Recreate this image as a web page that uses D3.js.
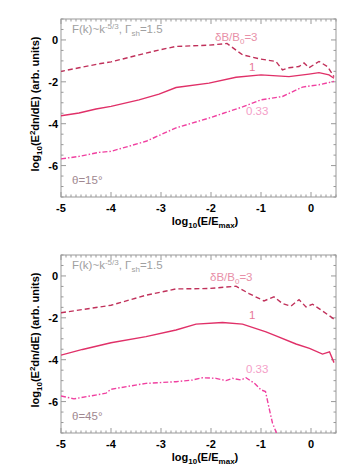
<!DOCTYPE html>
<html lang="en">
<head>
    <meta charset="UTF-8">
    <title>Spectra</title>
    <script src="https://d3js.org/d3.v7.min.js"></script>
    <style>
        body { margin: 0; background: white; }
        .tick-label { font-family: "Liberation Sans", Arial, sans-serif; font-weight: bold; font-size: 11px; }
        .note { font-family: "Liberation Sans", Arial, sans-serif; font-size: 11.5px; }
    </style>
</head>
<body>
    <script>

        // top panel, theta = 15 deg
        var dash15X = [-5.02, -4.64, -4.24, -4.0, -3.44, -3.04, -2.7, -2.04, -1.68, -1.37, -1.04, -0.7, -0.57, -0.44, -0.24, -0.14, -0.04, 0.16, 0.33, 0.46];
        var dash15Y = [-1.51, -1.33, -1.14, -1.05, -0.71, -0.48, -0.31, -0.25, -0.17, -0.71, -0.9, -1.03, -1.43, -1.33, -1.27, -1.1, -1.33, -1.03, -1.27, -1.75];
        var solid15X = [-5.0, -4.64, -4.3, -4.0, -3.44, -3.04, -2.7, -2.04, -1.5, -1.0, -0.44, -0.04, 0.16, 0.36, 0.46];
        var solid15Y = [-3.62, -3.49, -3.3, -3.17, -2.86, -2.59, -2.27, -2.06, -1.78, -1.67, -1.75, -1.63, -1.56, -1.67, -1.83];
        var dot15X = [-5.0, -4.64, -4.24, -4.0, -3.3, -2.7, -2.04, -1.37, -1.0, -0.57, -0.17, 0.16, 0.46];
        var dot15Y = [-5.68, -5.56, -5.37, -5.32, -4.84, -4.2, -3.73, -3.2, -2.86, -2.7, -2.25, -2.14, -1.98];

        // bottom panel, theta = 45 deg
        var dash45X = [-5.0, -4.0, -3.3, -2.7, -2.04, -1.5, -1.24, -0.94, -0.74, -0.57, -0.4, -0.24, -0.1, 0.03, 0.23, 0.46];
        var dash45Y = [-1.76, -1.4, -0.92, -0.62, -0.6, -0.49, -0.84, -1.19, -1.0, -1.32, -1.44, -1.13, -1.48, -1.35, -1.67, -2.06];
        var solid45X = [-5.0, -4.57, -4.0, -3.3, -2.7, -2.3, -1.77, -1.37, -0.9, -0.7, -0.3, -0.03, 0.23, 0.37, 0.46];
        var solid45Y = [-3.78, -3.51, -3.19, -2.9, -2.58, -2.3, -2.22, -2.3, -2.67, -2.86, -3.25, -3.46, -3.73, -3.62, -4.14];
        var dot45X = [-5.0, -4.74, -4.1, -4.0, -3.3, -2.7, -2.37, -2.17, -1.9, -1.7, -1.57, -1.4, -1.3, -1.13, -1.0, -0.91, -0.83, -0.77, -0.69];
        var dot45Y = [-5.73, -5.87, -5.6, -5.41, -5.13, -5.05, -4.97, -4.86, -4.89, -5.0, -4.89, -4.97, -4.86, -5.13, -5.44, -5.52, -6.4, -7.03, -7.5];

        var xTicks = [-5, -4, -3, -2, -1, 0];
        var yTicks = [0, -2, -4, -6];

        var svg = d3.select("body").append("svg")
            .attr("width", 354)
            .attr("height", 472);

        var x = d3.scaleLinear().domain([-5, 0.5]).range([61, 336]);

        function zip(xs, ys) {
            return xs.map(function (d, i) { return [d, ys[i]]; });
        }

        function panel(top, theta, series) {
            var y = d3.scaleLinear().domain([-7.5, 1]).range([top + 178, top]);
            var g = svg.append("g");
            var clipId = "clip" + top;

            g.append("clipPath").attr("id", clipId)
                .append("rect")
                .attr("x", 61).attr("y", top)
                .attr("width", 275).attr("height", 178);

            // frame
            g.append("rect")
                .attr("x", 61).attr("y", top)
                .attr("width", 275).attr("height", 178)
                .attr("fill", "none")
                .attr("stroke", "#999")
                .attr("stroke-width", 1);

            // x ticks, minor every 0.1
            var xMinor = d3.range(-50, 6).map(function (d) { return d / 10; });
            xMinor.forEach(function (v) {
                var major = Math.abs(v - Math.round(v)) < 1e-6;
                var len = major ? 5 : 2.5;
                g.append("line")
                    .attr("x1", x(v)).attr("x2", x(v))
                    .attr("y1", top + 178).attr("y2", top + 178 - len)
                    .attr("stroke", "#999");
                g.append("line")
                    .attr("x1", x(v)).attr("x2", x(v))
                    .attr("y1", top).attr("y2", top + len)
                    .attr("stroke", "#999");
            });

            // y ticks, minor every 0.5
            var yMinor = d3.range(-15, 3).map(function (d) { return d / 2; });
            yMinor.forEach(function (v) {
                var major = v % 2 === 0;
                var len = major ? 5 : 2.5;
                g.append("line")
                    .attr("x1", 61).attr("x2", 61 + len)
                    .attr("y1", y(v)).attr("y2", y(v))
                    .attr("stroke", "#999");
                g.append("line")
                    .attr("x1", 336).attr("x2", 336 - len)
                    .attr("y1", y(v)).attr("y2", y(v))
                    .attr("stroke", "#999");
            });

            g.selectAll(".xl").data(xTicks).enter().append("text")
                .attr("class", "tick-label")
                .attr("x", function (d) { return x(d); })
                .attr("y", top + 193)
                .attr("text-anchor", "middle")
                .text(function (d) { return d === 0 ? "0" : "-" + Math.abs(d); });

            g.selectAll(".yl").data(yTicks).enter().append("text")
                .attr("class", "tick-label")
                .attr("x", 58)
                .attr("y", function (d) { return y(d) + 4; })
                .attr("text-anchor", "end")
                .text(function (d) { return d === 0 ? "0" : "-" + Math.abs(d); });

            // axis titles
            var xt = g.append("text")
                .attr("class", "tick-label")
                .attr("x", 205).attr("y", top + 206)
                .attr("text-anchor", "middle");
            xt.append("tspan").text("log");
            xt.append("tspan").attr("font-size", "8px").attr("dy", 3).text("10");
            xt.append("tspan").attr("dy", -3).text("(E/E");
            xt.append("tspan").attr("font-size", "8px").attr("dy", 3).text("max");
            xt.append("tspan").attr("dy", -3).text(")");

            var yt = g.append("text")
                .attr("class", "tick-label")
                .attr("transform", "translate(39," + (top + 85) + ") rotate(-90)")
                .attr("text-anchor", "middle");
            yt.append("tspan").text("log");
            yt.append("tspan").attr("font-size", "8px").attr("dy", 3).text("10");
            yt.append("tspan").attr("dy", -3).text("(E");
            yt.append("tspan").attr("font-size", "8px").attr("dy", -4).text("2");
            yt.append("tspan").attr("dy", 4).text("dn/dE) (arb. units)");

            var line = d3.line()
                .x(function (d) { return x(d[0]); })
                .y(function (d) { return y(d[1]); });

            series.forEach(function (s) {
                g.append("path")
                    .attr("clip-path", "url(#" + clipId + ")")
                    .attr("d", line(zip(s.xs, s.ys)))
                    .attr("fill", "none")
                    .attr("stroke", s.color)
                    .attr("stroke-width", 1.4)
                    .attr("stroke-dasharray", s.dash);
            });

            // notes
            var n1 = g.append("text").attr("class", "note")
                .attr("x", 72).attr("y", top + 14)
                .attr("fill", "#a0a0a0");
            n1.append("tspan").text("F(k)~k");
            n1.append("tspan").attr("font-size", "8px").attr("dy", -4).text("-5/3");
            n1.append("tspan").attr("dy", 4).text(", \u0393");
            n1.append("tspan").attr("font-size", "8px").attr("dy", 3).text("sh");
            n1.append("tspan").attr("dy", -3).text("=1.5");

            var n2 = g.append("text").attr("class", "note")
                .attr("x", theta === 15 ? 215 : 210).attr("y", top + (theta === 15 ? 22 : 26))
                .attr("fill", "#e890a8");
            n2.append("tspan").text("\u03b4B/B");
            n2.append("tspan").attr("font-size", "8px").attr("dy", 3).text("0");
            n2.append("tspan").attr("dy", -3).text("=3");

            g.append("text").attr("class", "note")
                .attr("x", 249).attr("y", top + (theta === 15 ? 52 : 64))
                .attr("fill", "#e87898").text("1");

            g.append("text").attr("class", "note")
                .attr("x", 246).attr("y", top + (theta === 15 ? 96 : 118))
                .attr("fill", "#f4a0c8").text("0.33");

            g.append("text").attr("class", "note")
                .attr("x", 72).attr("y", top + 165)
                .attr("fill", "#a08890")
                .text("\u03b8=" + theta + "\u00b0");
        }

        panel(19, 15, [
            { xs: dash15X, ys: dash15Y, color: "#c0305a", dash: "5,3" },
            { xs: solid15X, ys: solid15Y, color: "#e03068", dash: null },
            { xs: dot15X, ys: dot15Y, color: "#f040a0", dash: "5,2,1.5,2" }
        ]);

        panel(255, 45, [
            { xs: dash45X, ys: dash45Y, color: "#c0305a", dash: "5,3" },
            { xs: solid45X, ys: solid45Y, color: "#e03068", dash: null },
            { xs: dot45X, ys: dot45Y, color: "#f040a0", dash: "5,2,1.5,2" }
        ]);

    </script>
</body>
</html>
